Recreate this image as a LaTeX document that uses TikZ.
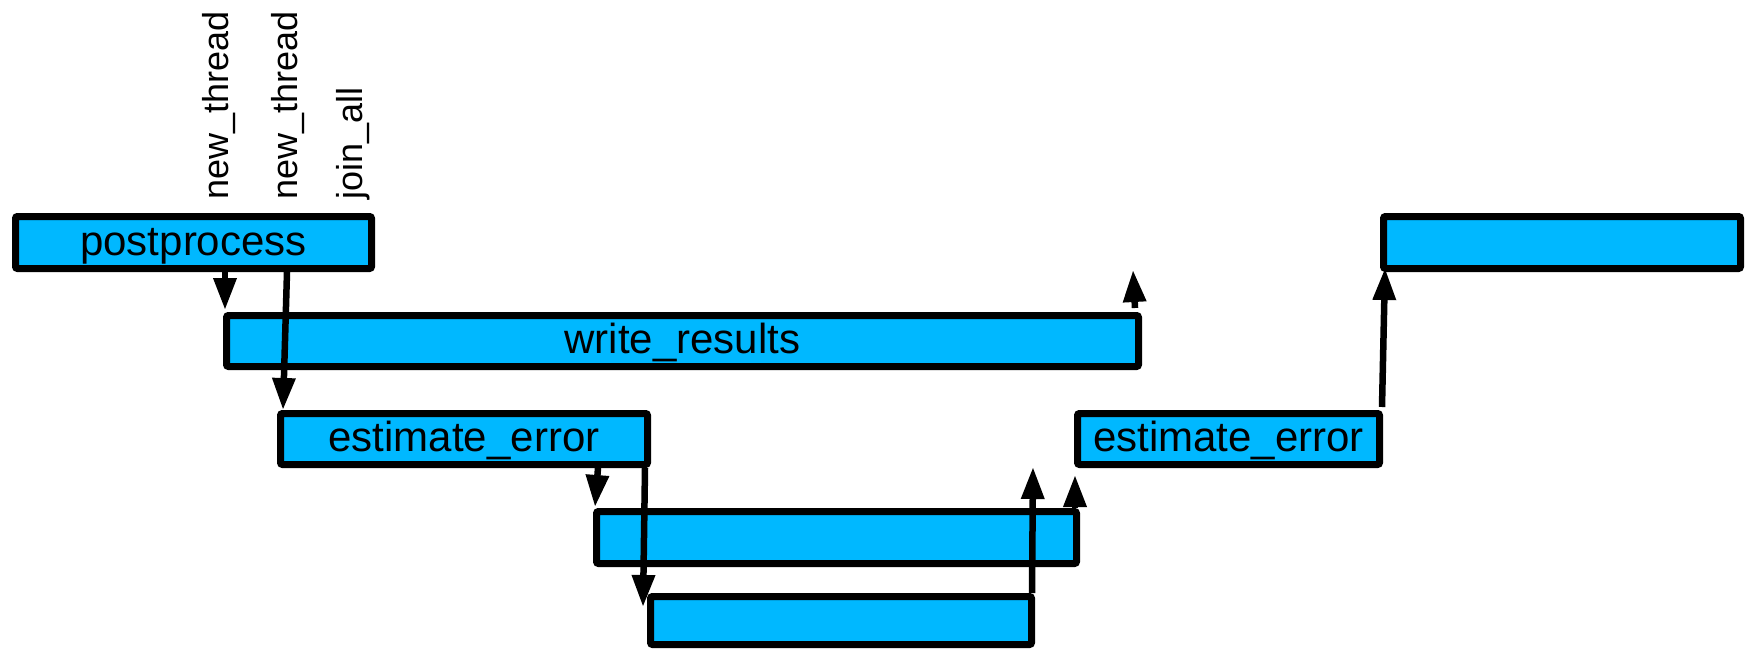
\documentclass[tikz,border=0pt]{standalone}
\usepackage{fontspec}
\setmainfont{Liberation Sans}
\usetikzlibrary{arrows.meta}
\definecolor{boxblue}{RGB}{0,184,255}
\tikzset{
  bar/.style={draw=black, fill=boxblue, line width=7pt, rounded corners=2pt,
    inner sep=0pt, text height=30pt, text depth=5pt, font=\fontsize{42}{50}\selectfont},
  lbl/.style={rotate=90, anchor=base west, inner sep=0pt, font=\fontsize{36}{42}\selectfont},
  conn/.style={line width=6.5pt, -{Triangle[length=32pt,width=22pt]}}
}
\begin{document}
\begin{tikzpicture}[x=1pt,y=-1pt]
\useasboundingbox (0,0) rectangle (1749,650);
% bars
\node[bar, minimum width=356pt, minimum height=52pt] (post) at (193.5,242.5) {postprocess};
\node[bar, minimum width=912pt, minimum height=51pt] (wr) at (682.5,341) {write\_results};
\node[bar, minimum width=367pt, minimum height=51pt] (ee1) at (464,439) {estimate\_error};
\node[bar, minimum width=480pt, minimum height=52pt] (b3) at (836.5,537.5) {};
\node[bar, minimum width=381pt, minimum height=48pt] (b4) at (841,620.5) {};
\node[bar, minimum width=302pt, minimum height=51pt] (ee2) at (1228.5,439) {estimate\_error};
\node[bar, minimum width=357pt, minimum height=52pt] (b5) at (1562,242.5) {};
% labels
\node[lbl] (l1) at (228,200) {new\_thread};
\node[lbl] (l2) at (297,200) {new\_thread};
\node[lbl] (l3) at (362,200) {join\_all};
% free ends
\coordinate (j1) at (1033,467);
\coordinate (j2) at (1133,270);
% connectors
\draw[conn] ([xshift=213pt]post.south west) -- ([xshift=2pt,yshift=2pt]wr.north west);
\draw[conn] ([xshift=275pt]post.south west) -- ([xshift=6pt]ee1.north west);
\draw[conn] ([xshift=-53pt]ee1.south east) -- ([xshift=2pt,yshift=1pt]b3.north west);
\draw[conn] ([xshift=-6pt]ee1.south east) -- ([xshift=-4pt,yshift=-14pt]b4.north west);
\draw[conn] ([xshift=-3pt]b4.north east) -- (j1);
\draw[conn] ([xshift=-5pt]b3.north east) -- ([xshift=1pt,yshift=-7pt]ee2.south west);
\draw[conn] ([xshift=-1pt,yshift=3pt]ee2.north east) -- ([xshift=5pt,yshift=4pt]b5.south west);
\draw[conn] ([xshift=-7pt,yshift=4pt]wr.north east) -- (j2);
\end{tikzpicture}
\end{document}
